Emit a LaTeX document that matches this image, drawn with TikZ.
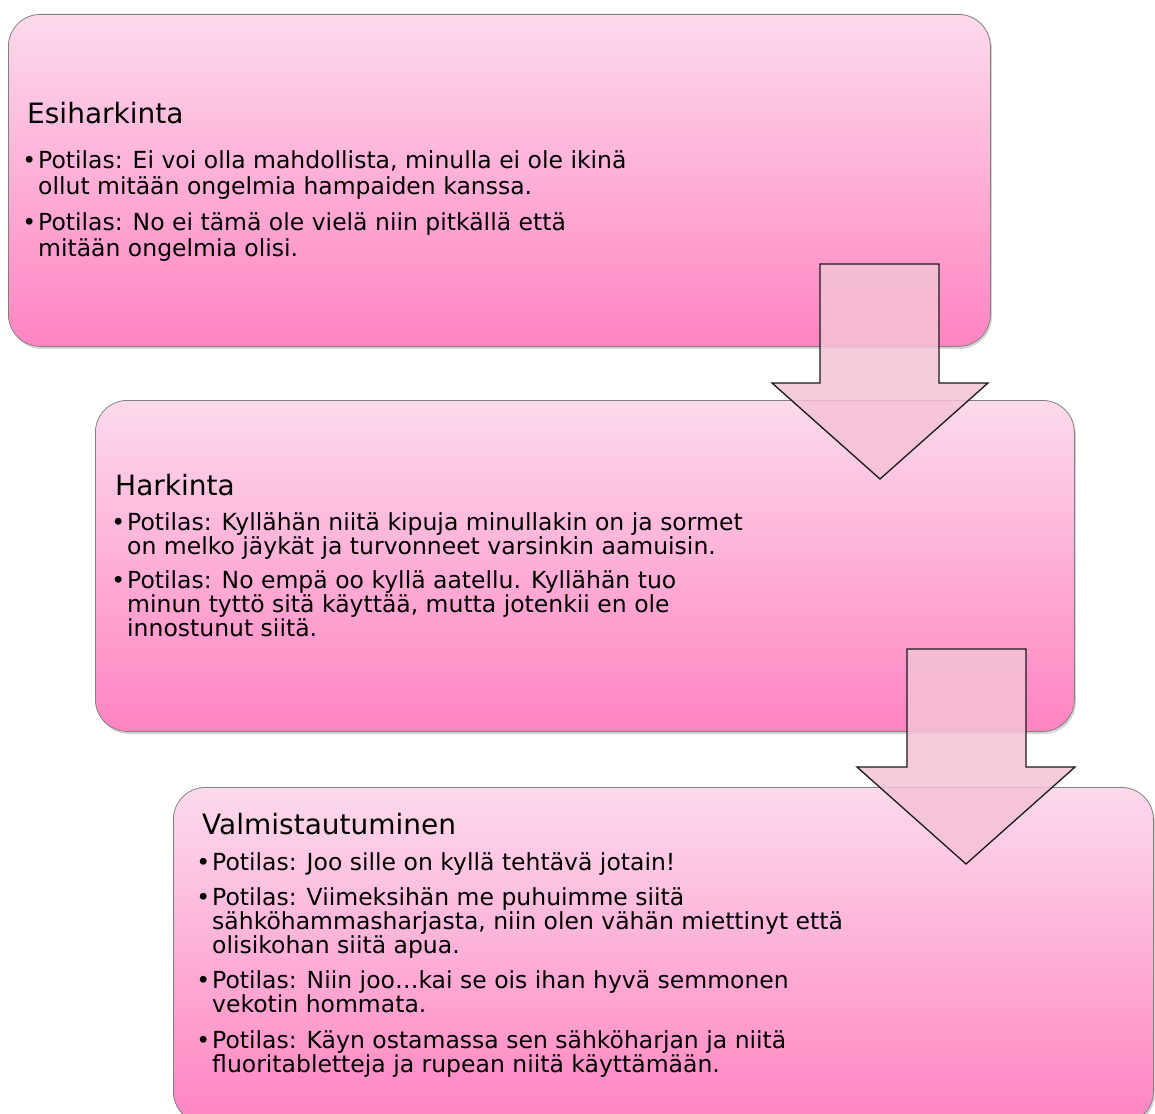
\documentclass[tikz,border=0pt]{standalone}
\usepackage{fontspec}
\setmainfont{DejaVu Sans}
\usetikzlibrary{shadows}
\definecolor{pinktop}{RGB}{252,218,236}
\definecolor{pinkbot}{RGB}{255,132,193}
\definecolor{arrowfill}{RGB}{245,194,214}
\begin{document}
\begin{tikzpicture}[x=1pt,y=-1pt,
  stagebox/.style={draw=black!50, line width=0.8pt, rounded corners=32pt,
    top color=pinktop, bottom color=pinkbot, anchor=north west, inner sep=0pt,
    drop shadow={opacity=0.35, shadow xshift=1.5pt, shadow yshift=-2.5pt}},
  blockarrow/.style={draw=black!90, line width=1.3pt, fill=arrowfill, fill opacity=0.85, line join=miter},
  ttl/.style={anchor=base west, inner sep=0pt, font=\fontsize{28}{32}\selectfont},
  txt/.style={anchor=base west, inner sep=0pt, font=\fontsize{23.5}{27}\selectfont}]
\useasboundingbox (0,0) rectangle (1155,1113);
\clip (0,0) rectangle (1155,1113);

% boxes
\node[stagebox, minimum width=982pt, minimum height=332pt] (box1) at (8,14) {};
\node[stagebox, minimum width=979pt, minimum height=331pt] (box2) at (95,400) {};
\node[stagebox, minimum width=980pt, minimum height=336pt] (box3) at (173,787) {};

% box 1 text
\node[ttl] (t1) at (27,123) {Esiharkinta};
\node[txt] (a1) at (38,168) {\llap{•\hspace{2pt}}Potilas: Ei voi olla mahdollista, minulla ei ole ikinä};
\node[txt] (a2) at (38,194) {ollut mitään ongelmia hampaiden kanssa.};
\node[txt] (a3) at (38,230) {\llap{•\hspace{2pt}}Potilas: No ei tämä ole vielä niin pitkällä että};
\node[txt] (a4) at (38,256) {mitään ongelmia olisi.};

% box 2 text
\node[ttl] (t2) at (115,495) {Harkinta};
\node[txt] (b1) at (127,530) {\llap{•\hspace{2pt}}Potilas: Kyllähän niitä kipuja minullakin on ja sormet};
\node[txt] (b2) at (127,554) {on melko jäykät ja turvonneet varsinkin aamuisin.};
\node[txt] (b3) at (127,588) {\llap{•\hspace{2pt}}Potilas: No empä oo kyllä aatellu. Kyllähän tuo};
\node[txt] (b4) at (127,612) {minun tyttö sitä käyttää, mutta jotenkii en ole};
\node[txt] (b5) at (127,636) {innostunut siitä.};

% box 3 text
\node[ttl] (t3) at (202,834) {Valmistautuminen};
\node[txt] (c1) at (212,870) {\llap{•\hspace{2pt}}Potilas: Joo sille on kyllä tehtävä jotain!};
\node[txt] (c2) at (212,905) {\llap{•\hspace{2pt}}Potilas: Viimeksihän me puhuimme siitä};
\node[txt] (c3) at (212,929) {sähköhammasharjasta, niin olen vähän miettinyt että};
\node[txt] (c4) at (212,953) {olisikohan siitä apua.};
\node[txt] (c5) at (212,988) {\llap{•\hspace{2pt}}Potilas: Niin joo…kai se ois ihan hyvä semmonen};
\node[txt] (c6) at (212,1012) {vekotin hommata.};
\node[txt] (c7) at (212,1048) {\llap{•\hspace{2pt}}Potilas: Käyn ostamassa sen sähköharjan ja niitä};
\node[txt] (c8) at (212,1072) {fluoritabletteja ja rupean niitä käyttämään.};

% block arrows
\draw[blockarrow] (820,264) -- (939,264) -- (939,383) -- (988,383) -- (880,479)
  -- (772,383) -- (820,383) -- cycle;
\draw[blockarrow] (907,649) -- (1026,649) -- (1026,767) -- (1075,767) -- (966,864)
  -- (857,767) -- (907,767) -- cycle;
\end{tikzpicture}
\end{document}
